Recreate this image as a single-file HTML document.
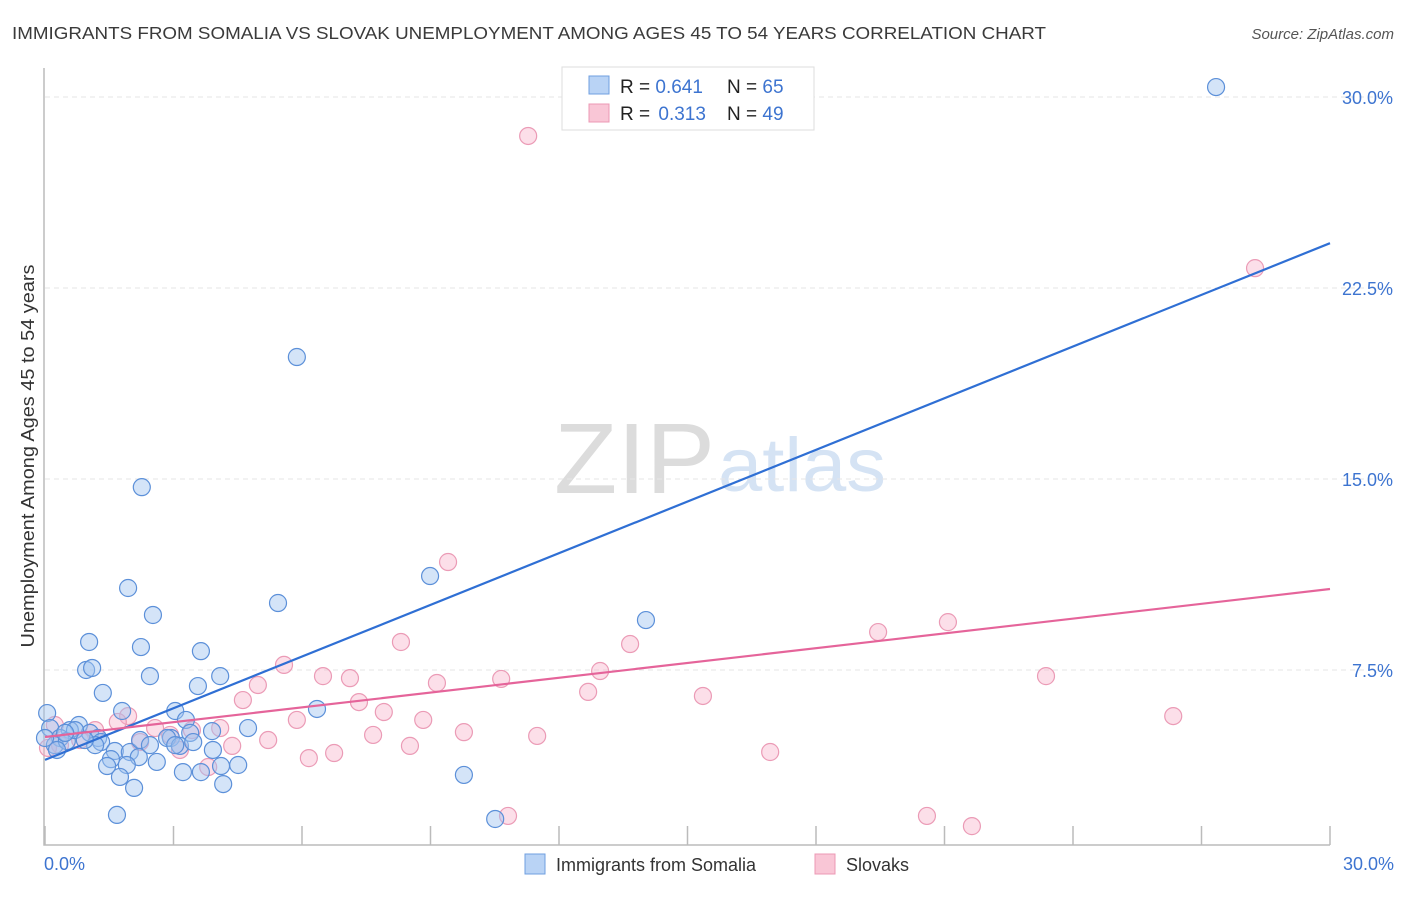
<!DOCTYPE html>
<html><head><meta charset="utf-8"><style>
body{margin:0;background:#fff;font-family:"Liberation Sans",sans-serif}
svg text{font-family:"Liberation Sans",sans-serif}
</style></head><body>
<svg id="c" width="1406" height="892" viewBox="0 0 1406 892" xmlns="http://www.w3.org/2000/svg">
<text x="12" y="39" font-size="17.5" fill="#3a3a3a" textLength="1034" lengthAdjust="spacingAndGlyphs">IMMIGRANTS FROM SOMALIA VS SLOVAK UNEMPLOYMENT AMONG AGES 45 TO 54 YEARS CORRELATION CHART</text>
<text x="1394" y="39" font-size="15" fill="#555" font-style="italic" text-anchor="end">Source: ZipAtlas.com</text>
<g>
<text x="554" y="493" font-size="100" fill="#dcdcdc" font-family="Liberation Serif" textLength="161" lengthAdjust="spacingAndGlyphs">ZIP</text>
<text x="718" y="491" font-size="76" fill="#d5e3f4" textLength="168" lengthAdjust="spacingAndGlyphs">atlas</text>
</g>
<g id="grid"></g>
<g id="axes"></g>
<g id="pts"></g>
<g id="lines"></g>
<text x="34" y="456" font-size="18" fill="#333" text-anchor="middle" textLength="383" lengthAdjust="spacingAndGlyphs" transform="rotate(-90 34 456)">Unemployment Among Ages 45 to 54 years</text>
<g>
<rect x="562" y="67" width="252" height="63" fill="#fff" stroke="#ddd"/>
<rect x="589" y="76" width="20" height="18" fill="#b9d3f5" stroke="#6f9fe0"/>
<rect x="589" y="104" width="20" height="18" fill="#f9c6d6" stroke="#ec98b4"/>
<text x="620" y="93" font-size="19" fill="#222">R = <tspan fill="#3d74d0">0.641</tspan></text>
<text x="727" y="93" font-size="19" fill="#222">N = <tspan fill="#3d74d0">65</tspan></text>
<text x="620" y="120" font-size="19" fill="#222">R = <tspan fill="#3d74d0" dx="3">0.313</tspan></text>
<text x="727" y="120" font-size="19" fill="#222">N = <tspan fill="#3d74d0">49</tspan></text>
</g>
<g>
<rect x="525" y="854" width="20" height="20" fill="#b9d3f5" stroke="#6f9fe0"/>
<text x="556" y="871" font-size="18" fill="#333">Immigrants from Somalia</text>
<rect x="815" y="854" width="20" height="20" fill="#f9c6d6" stroke="#ec98b4"/>
<text x="846" y="871" font-size="18" fill="#333">Slovaks</text>
</g>
</svg>
<script>
const yTicks=[7.5,15,22.5,30];
const yTickLabels=["7.5%","15.0%","22.5%","30.0%"];
const xTicks=[0,3,6,9,12,15,18,21,24,27,30];
const xEndLabels=["0.0%","30.0%"];
const somaliaX=[5.88,2.26,1.94,2.52,8.99,5.44,14.03,27.34,1.03,2.24,0.96,1.10,3.64,2.45,4.09,3.57,1.35,6.35,1.80,3.04,3.29,0.05,0.12,0.79,0.58,1.05,1.24,1.31,0.35,0.23,0.51,4.74,3.90,3.39,2.94,2.85,3.15,3.46,3.92,1.63,1.98,2.19,1.54,1.45,1.91,2.61,3.22,3.64,4.11,4.51,1.75,2.08,4.16,9.78,1.68,10.51,0.0,0.70,0.47,1.17,0.28,0.93,2.22,2.45,3.04];
const somaliaY=[19.79,14.68,10.72,9.66,11.19,10.13,9.46,30.39,8.60,8.40,7.50,7.58,8.24,7.26,7.26,6.87,6.60,5.97,5.89,5.89,5.54,5.81,5.22,5.34,5.14,5.03,4.83,4.67,4.83,4.55,4.71,5.22,5.10,5.03,4.83,4.83,4.52,4.67,4.36,4.32,4.28,4.08,4.00,3.73,3.77,3.89,3.49,3.49,3.73,3.77,3.30,2.87,3.02,3.38,1.81,1.65,4.83,5.14,5.03,4.55,4.36,4.75,4.75,4.55,4.55];
const slovakX=[11.28,28.25,9.41,8.31,13.66,19.45,21.08,5.58,6.49,7.12,4.97,9.15,10.65,12.96,12.68,15.36,23.37,4.62,7.33,7.91,5.88,8.83,1.94,1.70,0.23,2.57,3.43,4.09,5.21,7.66,9.78,11.49,4.37,3.15,8.52,6.16,6.75,16.93,26.34,3.81,10.81,20.59,21.64,0.35,0.07,1.17,2.22,2.92,0.82];
const slovakY=[28.47,23.28,11.74,8.60,8.52,8.99,9.38,7.70,7.26,7.18,6.91,6.99,7.15,7.46,6.64,6.48,7.26,6.32,6.24,5.85,5.54,5.54,5.69,5.46,5.34,5.22,5.14,5.22,4.75,4.95,5.06,4.91,4.52,4.36,4.52,4.04,4.24,4.28,5.69,3.69,1.77,1.77,1.37,4.55,4.44,5.14,4.67,4.95,4.75];
const somaliaTrend=[3.97,24.26];
const slovakTrend=[4.87,10.68];
const NS="http://www.w3.org/2000/svg";
const X=v=>45+v*(1285/30), Y=v=>861-v*(764/30);
function mk(t,a,p){const e=document.createElementNS(NS,t);for(const k in a)e.setAttribute(k,a[k]);p.appendChild(e);return e;}
const grid=document.getElementById('grid'),axes=document.getElementById('axes'),pts=document.getElementById('pts'),lines=document.getElementById('lines');
yTicks.forEach((t,i)=>{
 const l=mk('line',{x1:45,x2:1392,y1:Y(t),y2:Y(t),stroke:'#e6e6e6','stroke-dasharray':'5,4'},grid);
 
 
 const tx=mk('text',{x:1393,y:Y(t)+7,'font-size':18,fill:'#3d74d0','text-anchor':'end'},axes);
 tx.textContent=yTickLabels[i];
 
 
});
const ax=mk('path',{d:'M44,68 V845 H1330',fill:'none',stroke:'#bbb','stroke-width':1.5},axes);


xTicks.forEach(t=>{
 const l=mk('line',{x1:X(t),x2:X(t),y1:826,y2:845,stroke:'#bbb','stroke-width':1.5},axes);
 
 
});
[[0,'start',44],[30,'end',1394]].forEach((d,i)=>{
 const tx=mk('text',{x:d[2],y:870,'font-size':18,fill:'#3d74d0','text-anchor':d[1]},axes);
 tx.textContent=xEndLabels[i];
 
 
});
function dots(xs,ys,fill,stroke,name){
 xs.forEach((v,i)=>{
  const c=mk('circle',{cx:X(v),cy:Y(ys[i]),r:8.5,fill:fill,stroke:stroke,'stroke-width':1.2},pts);
  
  
 });
}
dots(slovakX,slovakY,'rgba(246,172,198,0.38)','#eb9bb6','slovak-point');
dots(somaliaX,somaliaY,'rgba(160,196,240,0.45)','#5c90d9','somalia-point');
const t1=mk('line',{x1:X(0),y1:Y(somaliaTrend[0]),x2:X(30),y2:Y(somaliaTrend[1]),stroke:'#2f6fd4','stroke-width':2.2},lines);


const t2=mk('line',{x1:X(0),y1:Y(slovakTrend[0]),x2:X(30),y2:Y(slovakTrend[1]),stroke:'#e5649a','stroke-width':2.2},lines);


</script>
</body></html>
